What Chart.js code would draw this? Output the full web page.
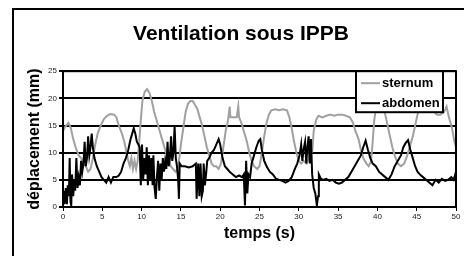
<!DOCTYPE html>
<html>
<head>
<meta charset="utf-8">
<script src="https://cdn.jsdelivr.net/npm/chart.js@4"></script>
<style>
  body { margin: 0; background: #fff; }
  #wrap { position: relative; width: 464px; height: 256px; overflow: hidden; }
  #frame { position: absolute; left: 12px; top: 8px; width: 480px; height: 280px; border: 2px solid #000; }
  canvas { position: absolute; left: 0; top: 0; }
</style>
</head>
<body>
<div id="wrap">
  <div id="frame"></div>
  <canvas id="c" width="464" height="256"></canvas>
</div>
<script>
// data (time in s, displacement in mm)
const sternumT = [0, 0.3, 0.7, 1.0, 1.3, 1.6, 2.0, 2.3, 2.6, 2.9, 3.2, 3.5, 3.8, 4.1, 4.4, 4.8, 5.2, 5.6, 6.0, 6.5,
  6.8, 7.1, 7.5, 7.8, 8.1, 8.3, 8.5, 8.7, 8.9, 9.1, 9.3, 9.5, 9.7, 9.9, 10.1, 10.4, 10.7, 11.0, 11.3, 11.6,
  11.9, 12.2, 12.5, 12.8, 13.1, 13.4, 13.7, 14.0, 14.3, 14.6, 14.8, 15.0, 15.3, 15.6, 15.9, 16.2, 16.5, 16.8, 17.1, 17.4,
  17.7, 18.0, 18.3, 18.6, 18.9, 19.2, 19.5, 19.8, 20.1, 20.4, 20.7, 21.0, 21.2, 21.3, 21.7, 22.1, 22.3, 22.4, 22.7, 23.0,
  23.4, 23.7, 24.0, 24.3, 24.7, 25.0, 25.3, 25.6, 25.9, 26.2, 26.5, 27.0, 27.5, 28.0, 28.5, 28.8, 29.1, 29.4, 29.7, 30.0,
  30.3, 30.6, 31.0, 31.3, 31.5, 31.7, 31.9, 32.2, 32.5, 33.0, 33.5, 34.0, 34.5, 35.0, 35.5, 36.0, 36.5, 36.9, 37.2, 37.6,
  37.9, 38.2, 38.6, 38.9, 39.2, 39.4, 39.6, 39.9, 40.3, 40.7, 41.0, 41.3, 41.6, 41.9, 42.2, 42.6, 43.0, 43.4, 43.8, 44.1,
  44.5, 44.8, 45.1, 45.5, 46.0, 46.5, 46.8, 47.2, 47.6, 48.0, 48.5, 48.8, 49.1, 49.5, 49.8, 50.0];
const sternumY = [14, 14.8, 15.5, 14.5, 12.5, 11, 9.5, 9, 8, 7.5, 6.5, 7, 9, 11.5, 13.5, 15, 16.2, 16.8, 17.1, 17,
  16.5, 15, 13.5, 12, 10, 8.5, 7.5, 9, 7, 8.5, 7, 8.5, 12, 16, 19.5, 21.2, 21.7, 21, 19.5, 17.5,
  16, 14.5, 13, 11.5, 10, 9, 7.5, 7, 6.5, 7, 9, 11.5, 14.5, 17.5, 19, 19.5, 19.5, 18.8, 18, 16.5,
  15, 13, 11, 9.5, 8, 7.5, 7.5, 7, 8, 11, 14, 16, 18.5, 16.5, 16.5, 16.5, 18.5, 16.5, 15.5, 14,
  12, 10, 8.5, 7.5, 7, 7.5, 10, 13, 15.5, 17, 17.8, 18, 17.8, 18, 17.8, 16.5, 14.5, 12, 10, 8.5,
  8, 8.5, 8, 9, 12.5, 10, 14, 16, 16.8, 16.5, 16.8, 17, 16.8, 17, 17, 16.8, 16.5, 15.5, 14, 12.5,
  10.5, 9, 8, 7.5, 8.5, 12, 16, 19, 19.5, 19, 17, 15, 13, 11, 9.5, 8, 7.5, 8, 9.5, 11,
  13, 15, 17, 19, 19.5, 19, 18, 17.5, 17, 17, 17.5, 18.5, 16.5, 14.5, 12, 11];

const abdomenT = [0, 0.1, 0.2, 0.35, 0.5, 0.6, 0.75, 0.85, 0.95, 1.05, 1.15, 1.3, 1.45, 1.55, 1.7, 1.85, 2.0, 2.15, 2.3, 2.45,
  2.6, 2.75, 2.9, 3.05, 3.2, 3.35, 3.5, 3.65, 3.8, 4.0, 4.3, 4.6, 4.9, 5.2, 5.5, 5.8, 6.1, 6.4, 6.8, 7.1,
  7.4, 7.7, 8.0, 8.3, 8.6, 8.9, 9.0, 9.2, 9.4, 9.6, 9.75, 9.9, 10.05, 10.2, 10.35, 10.5, 10.65, 10.8, 10.95, 11.1,
  11.25, 11.4, 11.5, 11.65, 11.8, 11.95, 12.1, 12.25, 12.4, 12.55, 12.7, 12.85, 13.0, 13.15, 13.3, 13.45, 13.6, 13.75, 13.9, 14.05,
  14.2, 14.35, 14.5, 14.65, 14.75, 14.85, 15.1, 15.5, 16.0, 16.5, 16.9, 17.0, 17.2, 17.35, 17.5, 17.65, 17.8, 17.9, 18.05, 18.2,
  18.35, 18.6, 18.9, 19.2, 19.5, 19.8, 20.0, 20.3, 20.6, 20.9, 21.2, 21.6, 22.0, 22.4, 22.8, 23.0, 23.15, 23.3, 23.45, 23.6,
  23.8, 24.0, 24.3, 24.6, 24.9, 25.1, 25.3, 25.6, 25.9, 26.3, 26.7, 27.1, 27.5, 27.9, 28.3, 28.7, 29.1, 29.5, 29.8, 30.1,
  30.3, 30.45, 30.6, 30.8, 30.95, 31.1, 31.25, 31.4, 31.55, 31.7, 31.9, 32.1, 32.3, 32.45, 32.55, 32.8, 33.1, 33.5, 33.9, 34.3,
  34.7, 35.1, 35.5, 35.9, 36.3, 36.7, 37.1, 37.5, 37.9, 38.2, 38.5, 38.8, 39.1, 39.4, 39.8, 40.2, 40.6, 41.0, 41.4, 41.8,
  42.2, 42.6, 43.0, 43.3, 43.6, 43.9, 44.2, 44.5, 44.8, 45.1, 45.4, 45.8, 46.2, 46.6, 47.0, 47.4, 47.8, 48.2, 48.6, 49.0,
  49.4, 49.7, 50.0];
const abdomenY = [1, 3, 0.5, 3.5, 0.5, 4, 2, 9, 1, 0.3, 6, 2, 5, 3, 9, 3.5, 5.5, 4, 8.5, 6.5,
  8, 12, 7.5, 9, 13, 9.5, 11, 13.5, 11, 9, 7.5, 6.5, 5.5, 5, 4.5, 5.5, 4.5, 5.5, 5.5, 5.8,
  6.5, 8, 9, 10.5, 12.5, 14, 14.5, 13.5, 12, 11.5, 11, 4, 11.5, 5, 9, 6, 11, 4, 9.5, 5,
  9, 4, 9.5, 3.5, 1.5, 5.5, 8.5, 3, 8, 5, 9, 6.5, 8.5, 7, 12, 7.5, 9, 13, 8.5, 10,
  14.8, 9, 7.5, 5, 1.5, 8, 7.5, 7.5, 7.3, 7.5, 8, 1.5, 8, 2, 8, 2, 3, 8, 4, 6,
  8.5, 9, 10, 10.5, 11.5, 12.5, 11.5, 9, 7.5, 7, 6.5, 6, 5.5, 5.8, 5.5, 6, 0.3, 8.5, 2.5, 6,
  5.5, 8, 9.5, 11, 12.2, 12.5, 10.5, 8.5, 7.5, 6.5, 6, 5.2, 5, 4.8, 4.5, 4.8, 5.5, 7, 8, 9.5,
  11.5, 8.5, 10.5, 12, 8, 11, 13, 8, 12.5, 6, 3.5, 2.5, 0.3, 2, 6, 5.2, 5, 5.2, 4.8, 5,
  4.5, 4.3, 4.5, 5, 5.5, 6.5, 7.5, 8.5, 9.5, 11, 12.2, 10.5, 9, 8, 7.5, 6.5, 6, 5.5, 5, 6,
  7.5, 8.5, 9.5, 11, 11.8, 12.3, 10.5, 9, 7.5, 6.5, 6, 5.5, 5, 4.5, 4, 5, 4.5, 5.2, 4.8, 5,
  5.5, 5, 6.5];

const seriesNames = ['sternum', 'abdomen'];
const seriesColors = ['#a0a0a0', '#000000'];
const yTicks = [0, 5, 10, 15, 20, 25];
const xTicks = [0, 5, 10, 15, 20, 25, 30, 35, 40, 45, 50];

const FONT = 'Liberation Sans, Arial, sans-serif';

function pairs(t, y) {
  return t.map((v, i) => ({ x: v, y: y[i] }));
}

// black border round the plot area
const frame = {
  id: 'frame',
  afterDraw(chart) {
    const { ctx, chartArea: a } = chart;
    ctx.save();
    ctx.strokeStyle = '#000';
    ctx.lineWidth = 2;
    ctx.strokeRect(a.left, a.top, a.right - a.left, a.bottom - a.top);
    ctx.restore();
  }
};

// boxed legend in the top right corner of the plot
const boxLegend = {
  id: 'boxLegend',
  afterDraw(chart) {
    const { ctx, chartArea: a } = chart;
    const w = 87, h = 41;
    const x = a.right - 100, y = a.top;
    ctx.save();
    ctx.fillStyle = '#fff';
    ctx.fillRect(x, y, w, h);
    ctx.strokeStyle = '#000';
    ctx.lineWidth = 2;
    ctx.strokeRect(x, y, w, h);
    ctx.font = 'bold 13px ' + FONT;
    ctx.textBaseline = 'middle';
    seriesNames.forEach((name, i) => {
      const cy = y + 12 + i * 20;
      ctx.strokeStyle = seriesColors[i];
      ctx.lineWidth = 2;
      ctx.beginPath();
      ctx.moveTo(x + 5, cy);
      ctx.lineTo(x + 24, cy);
      ctx.stroke();
      ctx.fillStyle = '#000';
      ctx.fillText(name, x + 26, cy);
    });
    ctx.restore();
  }
};

new Chart(document.getElementById('c'), {
  type: 'line',
  data: {
    datasets: [
      {
        label: seriesNames[0],
        data: pairs(sternumT, sternumY),
        borderColor: seriesColors[0],
        borderWidth: 2,
        pointRadius: 0,
        tension: 0,
        order: 1
      },
      {
        label: seriesNames[1],
        data: pairs(abdomenT, abdomenY),
        borderColor: seriesColors[1],
        borderWidth: 2,
        pointRadius: 0,
        tension: 0,
        order: 0
      }
    ]
  },
  options: {
    responsive: false,
    animation: false,
    layout: { padding: { left: 26, right: 8, top: 0, bottom: 0 } },
    plugins: {
      legend: { display: false },
      tooltip: { enabled: false },
      title: {
        display: true,
        text: 'Ventilation sous IPPB',
        color: '#000',
        font: { family: FONT, size: 21, weight: 'bold' },
        padding: { top: 22, bottom: 24 }
      }
    },
    scales: {
      x: {
        type: 'linear',
        min: 0,
        max: 50,
        afterBuildTicks(scale) { scale.ticks = xTicks.map(v => ({ value: v })); },
        afterFit(scale) { scale.height = 49; },
        grid: { drawOnChartArea: false, color: '#000', lineWidth: 1, tickLength: 4 },
        border: { color: '#000', width: 2 },
        ticks: { color: '#222', font: { family: FONT, size: 8 }, padding: 1, maxRotation: 0 },
        title: {
          display: true,
          text: 'temps (s)',
          color: '#000',
          font: { family: FONT, size: 16, weight: 'bold' },
          padding: { top: 0, bottom: 13 }
        }
      },
      y: {
        min: 0,
        max: 25,
        afterBuildTicks(scale) { scale.ticks = yTicks.map(v => ({ value: v })); },
        afterFit(scale) { scale.width = 37; },
        grid: { color: '#000', lineWidth: 2, tickLength: 4 },
        border: { color: '#000', width: 2 },
        ticks: { color: '#222', font: { family: FONT, size: 8 }, padding: 2 },
        title: {
          display: true,
          text: 'déplacement (mm)',
          color: '#000',
          font: { family: FONT, size: 16, weight: 'bold', lineHeight: 1 },
          padding: { top: 1, bottom: 0 }
        }
      }
    }
  },
  plugins: [frame, boxLegend]
});
</script>
</body>
</html>
